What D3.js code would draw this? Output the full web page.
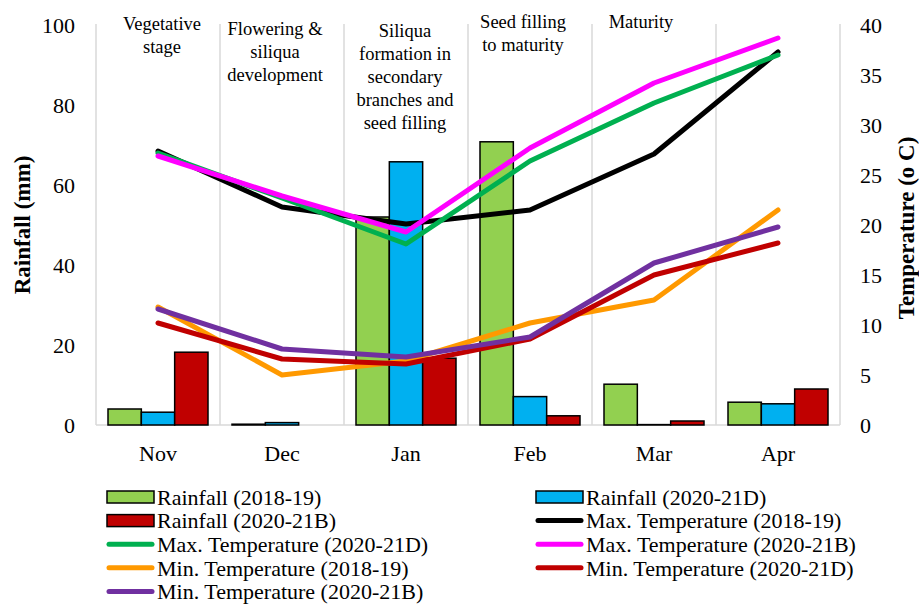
<html>
<meta charset="utf-8" />
<head>
<title>Rainfall and temperature by crop stage</title>
<script src="https://cdn.jsdelivr.net/npm/d3@7/dist/d3.min.js"></script>
<style>
	body { margin: 0; background: #fff; }
</style>

<script>
// data
const months = ["Nov", "Dec", "Jan", "Feb", "Mar", "Apr"];
const rainTicks = [0, 20, 40, 60, 80, 100];
const tempTicks = [0, 5, 10, 15, 20, 25, 30, 35, 40];

const rain1819 = [4.0, 0.2, 52.0, 70.8, 10.2, 5.7];
const rain2021D = [3.2, 0.6, 65.8, 7.1, 0.1, 5.3];
const rain2021B = [18.2, 0, 16.7, 2.3, 1.0, 9.0];

const maxT1819 = [27.4, 21.8, 20.1, 21.5, 27.1, 37.3];
const maxT2021D = [27.2, 22.7, 18.1, 26.4, 32.2, 37.0];
const maxT2021B = [26.9, 22.9, 19.3, 27.7, 34.2, 38.7];
const minT1819 = [11.8, 5.0, 6.4, 10.2, 12.5, 21.5];
const minT2021D = [10.2, 6.6, 6.1, 8.6, 15.0, 18.2];
const minT2021B = [11.6, 7.6, 6.8, 8.8, 16.2, 19.8];

const barNames = ["Rainfall (2018-19)", "Rainfall (2020-21D)", "Rainfall (2020-21B)"];
const lineNames = ["Max. Temperature (2018-19)", "Max. Temperature (2020-21D)", "Max. Temperature (2020-21B)",
	"Min. Temperature (2018-19)", "Min. Temperature (2020-21D)", "Min. Temperature (2020-21B)"];

const stageLabels = [
	["Vegetative", "stage"],
	["Flowering &", "siliqua", "development"],
	["Siliqua", "formation in", "secondary", "branches and", "seed filling"],
	["Seed filling", "to maturity"],
	["Maturity"]
];

window.onload = function() {
	let svg = d3.select("svg");
	let serif = '"Liberation Serif", "Times New Roman", Times, serif';

	let barData = [rain1819, rain2021D, rain2021B];
	let lineData = [maxT1819, maxT2021D, maxT2021B, minT1819, minT2021D, minT2021B];
	let barColors = ["#92d050", "#00b0f0", "#c00000"];
	let lineColors = ["#000000", "#00b050", "#ff00ff", "#ff9900", "#c00000", "#7030a0"];

	let x = d3.scaleBand().domain(months).range([96, 840]);
	let xBar = d3.scaleBand().domain(d3.range(3)).range([0, 100]);
	let barOff = (x.bandwidth() - 100) / 2;
	let yRain = d3.scaleLinear().domain([0, 100]).range([425, 25]);
	let yTemp = d3.scaleLinear().domain([0, 40]).range([425, 25]);

	// vertical separators between months
	let edges = months.map(function(m) { return x(m); }).concat([x.range()[1]]);
	svg.append("g").selectAll("line")
		.data(edges)
		.enter()
		.append("line")
		.attr("x1", function(d) { return d; })
		.attr("x2", function(d) { return d; })
		.attr("y1", yRain(100) - 1)
		.attr("y2", yRain(0))
		.style("stroke", "#d9d9d9")
		.style("stroke-width", "1.5px");

	// baseline
	svg.append("line")
		.attr("x1", x.range()[0]).attr("x2", x.range()[1])
		.attr("y1", yRain(0)).attr("y2", yRain(0))
		.style("stroke", "#d9d9d9")
		.style("stroke-width", "1.5px");

	// axes
	let left = svg.append("g")
		.attr("transform", "translate(96,0)")
		.call(d3.axisLeft(yRain).tickValues(rainTicks).tickSize(0).tickPadding(21));
	let right = svg.append("g")
		.attr("transform", "translate(840,0)")
		.call(d3.axisRight(yTemp).tickValues(tempTicks).tickSize(0).tickPadding(20));
	let bottom = svg.append("g")
		.attr("transform", "translate(0," + yRain(0) + ")")
		.call(d3.axisBottom(x).tickSize(0).tickPadding(20));
	[left, right, bottom].forEach(function(g) {
		g.attr("font-family", null).attr("font-size", null);
		g.select(".domain").remove();
		g.selectAll("text")
			.style("font-family", serif)
			.style("font-size", "22px")
			.style("fill", "#000");
	});

	// bars
	barData.forEach(function(vals, s) {
		svg.append("g").selectAll("rect")
			.data(vals)
			.enter()
			.append("rect")
			.attr("x", function(d, i) { return x(months[i]) + barOff + xBar(s); })
			.attr("width", xBar.bandwidth())
			.attr("y", function(d) { return yRain(d); })
			.attr("height", function(d) { return yRain(0) - yRain(d); })
			.style("fill", barColors[s])
			.style("stroke", "#000")
			.style("stroke-width", function(d) { return d > 0 ? "1.5px" : "0px"; });
	});

	// temperature lines
	let line = d3.line()
		.x(function(d, i) { return x(months[i]) + x.bandwidth() / 2; })
		.y(function(d) { return yTemp(d); });
	lineData.forEach(function(vals, s) {
		svg.append("path")
			.datum(vals)
			.attr("d", line)
			.style("fill", "none")
			.style("stroke", lineColors[s])
			.style("stroke-width", "5px")
			.style("stroke-linecap", "round")
			.style("stroke-linejoin", "round");
	});

	// stage notes at the top (hand placed text boxes)
	let stageDx = [4, -7, -1, -7, -13];
	let stageY = [30, 35, 37, 28, 28];
	stageLabels.forEach(function(lines, k) {
		let t = svg.append("text")
			.attr("text-anchor", "middle")
			.style("font-family", serif)
			.style("font-size", "18.5px");
		lines.forEach(function(s, j) {
			t.append("tspan")
				.attr("x", x(months[k]) + x.bandwidth() / 2 + stageDx[k])
				.attr("y", stageY[k] + j * 23)
				.text(s);
		});
	});

	// axis titles
	svg.append("text")
		.attr("transform", "translate(30,225) rotate(-90)")
		.attr("text-anchor", "middle")
		.style("font-family", serif)
		.style("font-size", "23px")
		.style("font-weight", "bold")
		.text("Rainfall (mm)");
	svg.append("text")
		.attr("transform", "translate(914,228) rotate(-90)")
		.attr("text-anchor", "middle")
		.style("font-family", serif)
		.style("font-size", "23px")
		.style("font-weight", "bold")
		.text("Temperature (o C)");

	// legend, two columns
	let items = barNames.map(function(n, i) { return { name: n, type: "bar", color: barColors[i] }; })
		.concat(lineNames.map(function(n, i) { return { name: n, type: "line", color: lineColors[i] }; }));
	let leg = svg.append("g").selectAll("g")
		.data(items)
		.enter()
		.append("g")
		.attr("transform", function(d, i) {
			return "translate(" + (i % 2 === 0 ? 107 : 536) + "," + (497 + Math.floor(i / 2) * 23.6) + ")";
		});
	leg.filter(function(d) { return d.type === "bar"; })
		.append("rect")
		.attr("x", 0).attr("y", -6)
		.attr("width", 47).attr("height", 12)
		.style("fill", function(d) { return d.color; })
		.style("stroke", "#000")
		.style("stroke-width", "1.5px");
	leg.filter(function(d) { return d.type === "line"; })
		.append("line")
		.attr("x1", 2).attr("x2", 45)
		.attr("y1", 0).attr("y2", 0)
		.style("stroke", function(d) { return d.color; })
		.style("stroke-width", "5px")
		.style("stroke-linecap", "round");
	leg.append("text")
		.attr("x", 50)
		.attr("y", 0)
		.attr("dy", "0.35em")
		.style("font-family", serif)
		.style("font-size", "22px")
		.text(function(d) { return d.name; });
}
</script>
</head>
<body>
	<svg width="919" height="604"></svg>
</body>
</html>
